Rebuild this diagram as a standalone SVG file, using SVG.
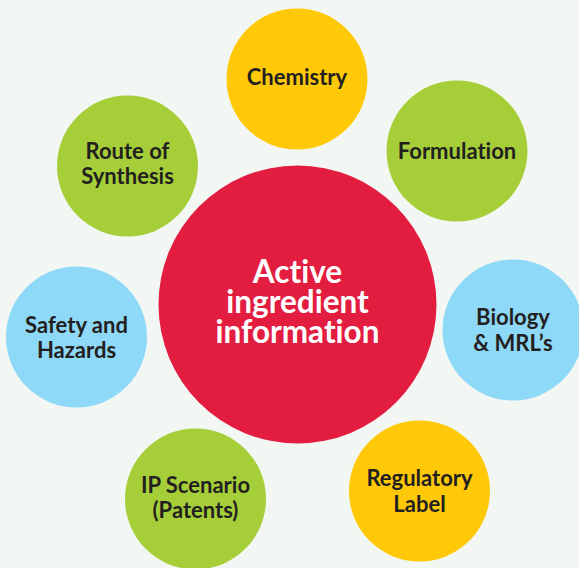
<svg xmlns="http://www.w3.org/2000/svg" width="579" height="568" viewBox="0 0 579 568">
<style>
.bg{fill:#f3f7f4}
.y{fill:#ffc907}.g{fill:#a6ce39}.b{fill:#8ed8f8}.r{fill:#e21d40}
text{font-family:Lato,"Open Sans","Liberation Sans",sans-serif;font-weight:700;text-anchor:middle;font-variant-ligatures:none}
.s{font-size:22px;fill:#231f20}
.c{font-size:31.5px;fill:#ffffff}
</style>
<rect class="bg" x="0" y="0" width="579" height="568"/>
<g id="connectors"/>
<g id="center"><circle class="r" cx="297.5" cy="304.5" r="139"/>
<text class="c" x="297.5" y="283">Active</text><text class="c" x="297.5" y="313">ingredient</text><text class="c" x="297.5" y="343">information</text></g>
<g id="chemistry"><circle class="y" cx="297" cy="79" r="70.5"/><text class="s" x="297" y="85">Chemistry</text></g>
<g id="route"><circle class="g" cx="127.5" cy="166" r="70.5"/><text class="s" x="127.5" y="159">Route of</text><text class="s" x="127.5" y="184">Synthesis</text></g>
<g id="formulation"><circle class="g" cx="457" cy="151" r="70.5"/><text class="s" x="457" y="159">Formulation</text></g>
<g id="safety"><circle class="b" cx="76.5" cy="337" r="70.5"/><text class="s" x="76.5" y="333">Safety and</text><text class="s" x="76.5" y="358">Hazards</text></g>
<g id="biology"><circle class="b" cx="513" cy="330" r="70.5"/><text class="s" x="513" y="325">Biology</text><text class="s" x="513" y="351">&amp; MRL’s</text></g>
<g id="ip"><circle class="g" cx="195.5" cy="499" r="70.5"/><text class="s" x="195.5" y="493">IP Scenario</text><text class="s" x="195.5" y="518">(Patents)</text></g>
<g id="regulatory"><circle class="y" cx="419.5" cy="491" r="70.5"/><text class="s" x="419.5" y="486">Regulatory</text><text class="s" x="419.5" y="512">Label</text></g>
</svg>
